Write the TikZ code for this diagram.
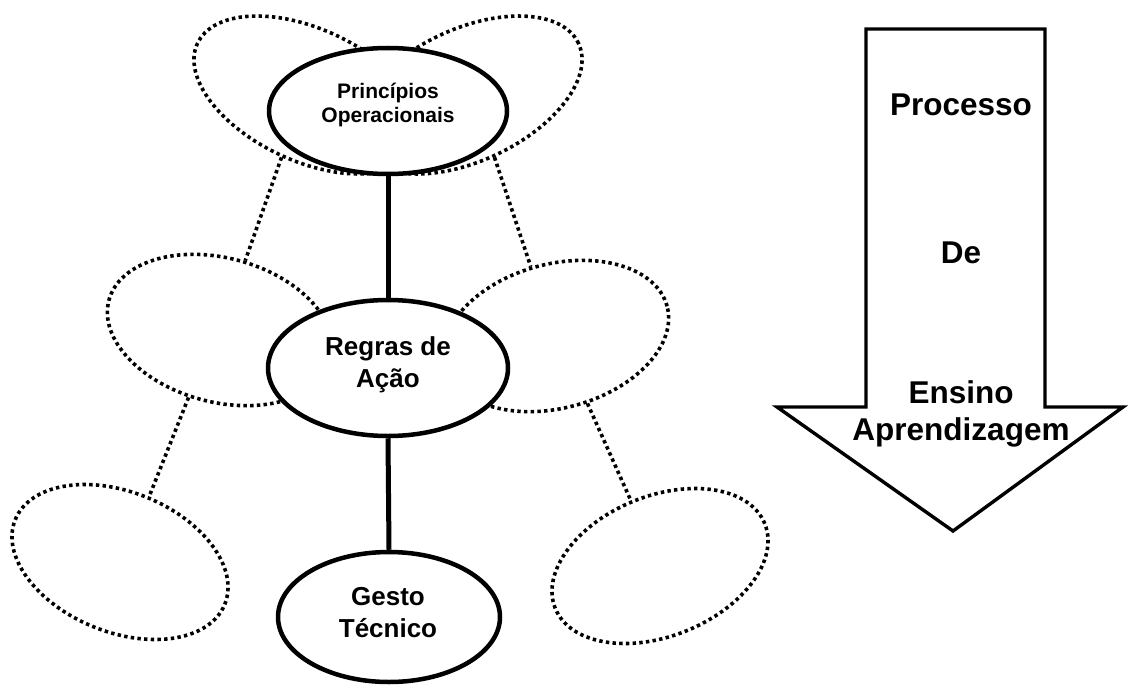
\documentclass[tikz,border=0pt]{standalone}
\usepackage{fontspec}
\setmainfont{Liberation Sans}
\usetikzlibrary{shapes.geometric}
\tikzset{
  dotell/.style={ellipse, draw, line width=3.6pt, dash pattern=on 3.4pt off 3.3pt, inner sep=0pt},
  dotline/.style={line width=3.6pt, dash pattern=on 3.4pt off 3.3pt},
  solidell/.style={ellipse, draw, fill=white, line width=4.5pt, inner sep=0pt},
  solidline/.style={line width=5pt},
  elltxt/.style={font=\fontsize{26}{31.5}\selectfont\bfseries, align=center, inner sep=0pt, anchor=base},
  smalltxt/.style={font=\fontsize{21}{23.5}\selectfont\bfseries, align=center, inner sep=0pt, anchor=base},
  arrowtxt/.style={font=\fontsize{31.5}{37}\selectfont\bfseries, inner sep=0pt, anchor=base},
  bigarrow/.style={line width=3.4pt, line join=miter}
}
\begin{document}
\begin{tikzpicture}[x=1pt,y=-1pt]
\useasboundingbox (0,0) rectangle (1129,685);
% dotted ellipses
\node[dotell, minimum width=244pt, minimum height=132pt, rotate=-25] (tl) at (308,95) {};
\node[dotell, minimum width=244pt, minimum height=132pt, rotate=25] (tr) at (468,95) {};
\node[dotell, minimum width=230pt, minimum height=144pt, rotate=-15] (ml) at (220,330) {};
\node[dotell, minimum width=230pt, minimum height=144pt, rotate=15] (mr) at (556,336) {};
\node[dotell, minimum width=226pt, minimum height=140pt, rotate=-22] (ll) at (120,562) {};
\node[dotell, minimum width=226pt, minimum height=140pt, rotate=22] (lr) at (660,566) {};
% dotted connectors
\draw[dotline] (tl.-88) -- (ml.85);
\draw[dotline] (tr.-92) -- (mr.95);
\draw[dotline] (ml.-100) -- (ll.88);
\draw[dotline] (mr.-80) -- (lr.92);
% solid ellipses
\node[solidell, minimum width=238pt, minimum height=126pt] (po) at (388,111) {};
\node[solidell, minimum width=240pt, minimum height=136pt] (ra) at (388,368) {};
\node[solidell, minimum width=222pt, minimum height=130pt] (gt) at (389,617) {};
\draw[solidline] (po.south) -- (ra.north);
\draw[solidline] (ra.south) -- (gt.north);
% texts in ellipses (base = baseline of last line)
\node[smalltxt] (potxt) at (388,122) {Princípios\\Operacionais};
\node[elltxt] (ratxt) at (388,387) {Regras de\\Ação};
\node[elltxt] (gttxt) at (388,637) {Gesto\\Técnico};
% big arrow
\draw[bigarrow] (866,29) -- (1045,29) -- (1045,407) -- (1123,407) -- (953,531)
  -- (777,407) -- (866,407) -- cycle;
\node[arrowtxt] (t1) at (961,115) {Processo};
\node[arrowtxt] (t2) at (961,263) {De};
\node[arrowtxt] (t3) at (961,403) {Ensino};
\node[arrowtxt] (t4) at (961,440) {Aprendizagem};
\end{tikzpicture}
\end{document}
